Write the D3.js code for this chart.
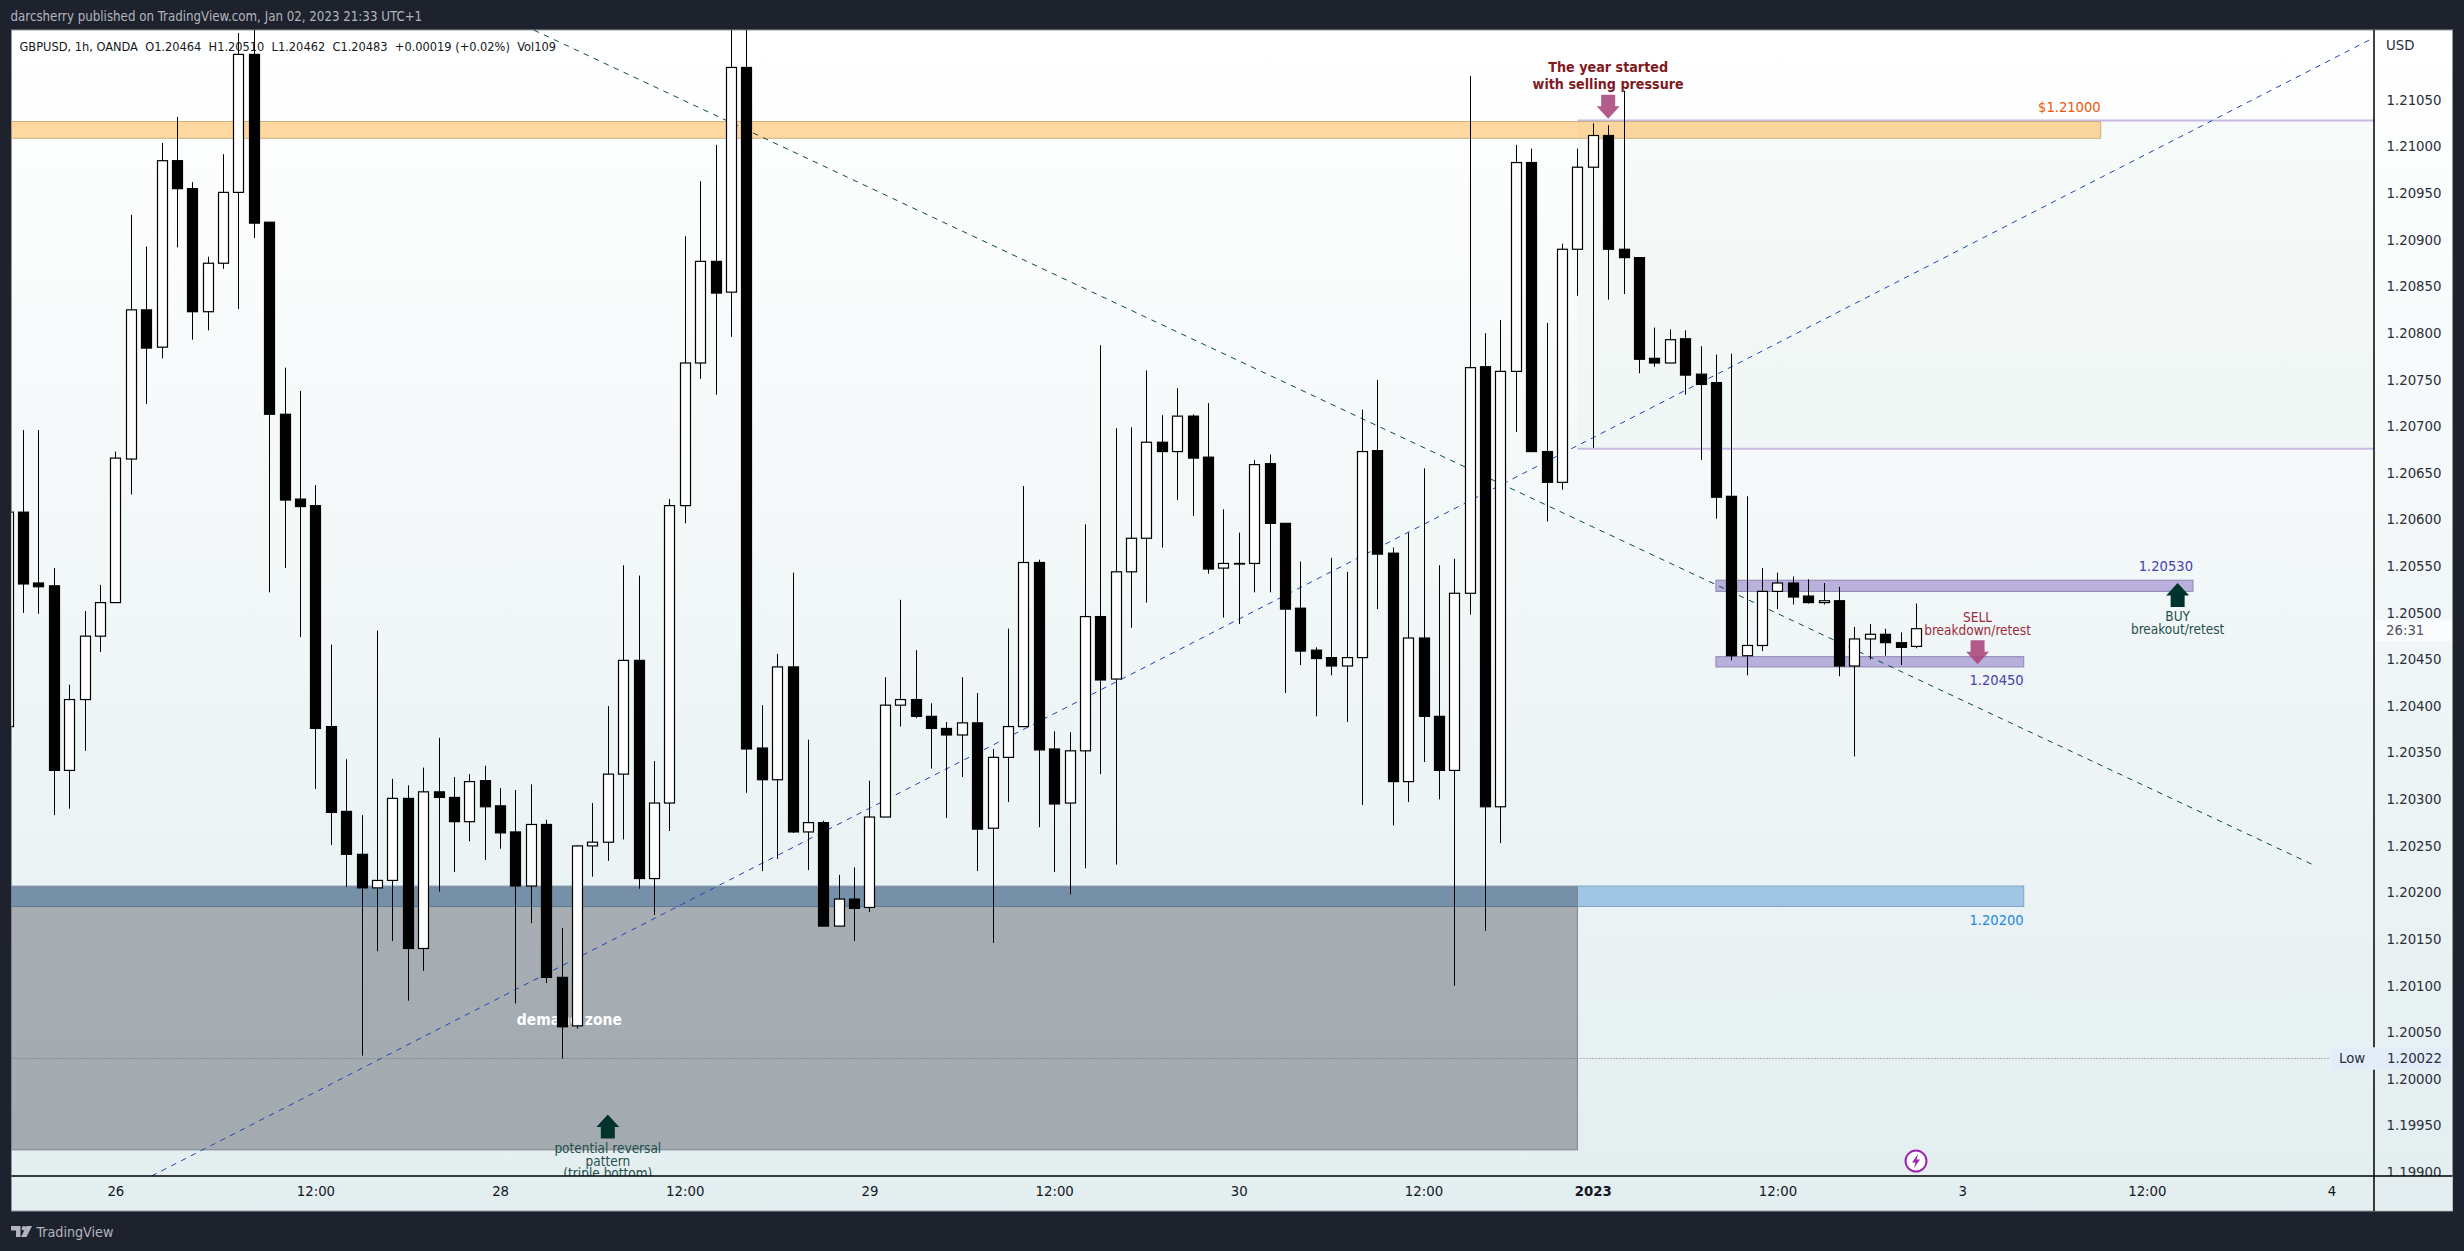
<!DOCTYPE html>
<html><head><meta charset="utf-8">
<script src="https://cdnjs.cloudflare.com/ajax/libs/d3/7.8.5/d3.min.js"></script>
<style>html,body{margin:0;padding:0;background:#1e222d;overflow:hidden}svg{display:block}text{font-family:"DejaVu Sans",sans-serif}.cond{font-family:"DejaVu Sans Condensed","DejaVu Sans",sans-serif}</style>
</head><body><svg id="c" width="2464" height="1251"></svg>
<script>
const opens=[1.20378,1.20608,1.20532,1.20529,1.20331,1.20407,1.20475,1.20511,1.20665,1.20825,
1.20785,1.20985,1.20955,1.20823,1.20875,1.20951,1.21099,1.20919,1.20713,1.20622,
1.20615,1.20378,1.20287,1.20241,1.20205,1.20213,1.20301,1.20140,1.20308,1.20302,
1.20276,1.20320,1.20293,1.20265,1.20207,1.20273,1.20109,1.20057,1.20250,1.20254,
1.20327,1.20449,1.20215,1.20296,1.20615,1.20768,1.20877,1.20844,1.21085,1.20355,
1.20321,1.20442,1.20265,1.20275,1.20164,1.20193,1.20184,1.20281,1.20401,1.20407,
1.20389,1.20376,1.20369,1.20382,1.20269,1.20345,1.20378,1.20554,1.20354,1.20296,
1.20352,1.20496,1.20429,1.20544,1.20580,1.20683,1.20673,1.20711,1.20667,1.20548,
1.20553,1.20553,1.20660,1.20596,1.20505,1.20460,1.20452,1.20443,1.20452,1.20674,
1.20564,1.20319,1.20473,1.20389,1.20331,1.20521,1.20764,1.20292,1.20759,1.20983,
1.20673,1.20640,1.20890,1.20978,1.21012,1.20890,1.20881,1.20773,1.20768,1.20794,
1.20756,1.20747,1.20625,1.20454,1.20465,1.20523,1.20532,1.20518,1.20511,1.20513,
1.20443,1.20472,1.20477,1.20468,1.20464];
const closes=[1.20608,1.20531,1.20528,1.20331,1.20407,1.20475,1.20511,1.20666,1.20825,1.20784,
1.20985,1.20955,1.20823,1.20875,1.20951,1.21099,1.20918,1.20713,1.20621,1.20614,
1.20376,1.20286,1.20241,1.20205,1.20213,1.20301,1.20140,1.20308,1.20302,1.20276,
1.20319,1.20292,1.20264,1.20207,1.20273,1.20109,1.20056,1.20250,1.20254,1.20327,
1.20449,1.20215,1.20296,1.20615,1.20768,1.20877,1.20843,1.21085,1.20354,1.20321,
1.20442,1.20265,1.20275,1.20164,1.20193,1.20183,1.20281,1.20401,1.20407,1.20389,
1.20376,1.20369,1.20382,1.20268,1.20345,1.20378,1.20554,1.20353,1.20295,1.20352,
1.20496,1.20428,1.20544,1.20580,1.20683,1.20673,1.20711,1.20666,1.20547,1.20553,
1.20553,1.20659,1.20596,1.20504,1.20459,1.20451,1.20443,1.20452,1.20673,1.20563,
1.20319,1.20473,1.20389,1.20331,1.20521,1.20763,1.20292,1.20759,1.20983,1.20673,
1.20640,1.20890,1.20978,1.21012,1.20890,1.20881,1.20772,1.20768,1.20793,1.20755,
1.20745,1.20624,1.20454,1.20465,1.20523,1.20532,1.20517,1.20511,1.20513,1.20443,
1.20472,1.20477,1.20468,1.20463,1.20483];
const highs=[1.20620,1.20696,1.20696,1.20548,1.20423,1.20502,1.20530,1.20673,1.20927,1.20893,
1.21004,1.21032,1.20962,1.20882,1.20992,1.21122,1.21170,1.20919,1.20763,1.20738,
1.20637,1.20466,1.20343,1.20283,1.20481,1.20322,1.20315,1.20334,1.20366,1.20324,
1.20327,1.20336,1.20312,1.20310,1.20316,1.20278,1.20162,1.20251,1.20296,1.20400,
1.20551,1.20540,1.20341,1.20622,1.20904,1.20963,1.21002,1.21170,1.21170,1.20401,
1.20456,1.20543,1.20364,1.20277,1.20219,1.20227,1.20320,1.20431,1.20514,1.20460,
1.20403,1.20383,1.20431,1.20414,1.20354,1.20483,1.20636,1.20557,1.20373,1.20372,
1.20595,1.20787,1.20698,1.20699,1.20760,1.20712,1.20741,1.20713,1.20725,1.20611,
1.20586,1.20664,1.20670,1.20596,1.20555,1.20463,1.20559,1.20544,1.20718,1.20750,
1.20570,1.20586,1.20655,1.20551,1.20558,1.21076,1.20800,1.20814,1.21002,1.20998,
1.20811,1.20896,1.20998,1.21025,1.21023,1.21060,1.20881,1.20806,1.20804,1.20803,
1.20786,1.20777,1.20778,1.20625,1.20548,1.20543,1.20539,1.20536,1.20532,1.20528,
1.20485,1.20488,1.20483,1.20479,1.20510];
const lows=[1.20370,1.20500,1.20499,1.20283,1.20290,1.20352,1.20458,1.20511,1.20627,1.20724,
1.20773,1.20892,1.20793,1.20803,1.20869,1.20826,1.20902,1.20522,1.20548,1.20474,
1.20311,1.20251,1.20206,1.20025,1.20137,1.20148,1.20084,1.20116,1.20201,1.20222,
1.20255,1.20235,1.20247,1.20081,1.20167,1.20103,1.20022,1.20054,1.20217,1.20234,
1.20257,1.20204,1.20176,1.20266,1.20596,1.20751,1.20734,1.20796,1.20307,1.20223,
1.20236,1.20264,1.20224,1.20164,1.20164,1.20148,1.20179,1.20281,1.20378,1.20387,
1.20333,1.20280,1.20324,1.20223,1.20146,1.20297,1.20378,1.20270,1.20222,1.20198,
1.20226,1.20327,1.20230,1.20484,1.20511,1.20570,1.20621,1.20604,1.20542,1.20495,
1.20488,1.20522,1.20522,1.20414,1.20444,1.20389,1.20433,1.20383,1.20294,1.20504,
1.20272,1.20297,1.20340,1.20300,1.20100,1.20498,1.20159,1.20253,1.20694,1.20673,
1.20598,1.20632,1.20840,1.20677,1.20836,1.20842,1.20757,1.20764,1.20768,1.20734,
1.20664,1.20601,1.20449,1.20433,1.20459,1.20504,1.20509,1.20510,1.20509,1.20432,
1.20346,1.20450,1.20454,1.20444,1.20462];

const timeTickBars=[7,20,32,44,56,68,80,92,103,115,127,139,151];
const timeTickLabels=["26","12:00","28","12:00","29","12:00","30","12:00","2023","12:00","3","12:00","4"];
const priceTicks=[1.21050,1.21000,1.20950,1.20900,1.20850,1.20800,1.20750,1.20700,1.20650,1.20600,1.20550,1.20500,1.20450,1.20400,1.20350,1.20300,1.20250,1.20200,1.20150,1.20100,1.20050,1.20000,1.19950,1.19900];
const zoneBars=[[-1,136],[-1,131],[111,142],[111,131],[-1,102]];
const zonePrices=[[1.21027,1.21009],[1.20207,1.20185],[1.20535,1.20523],[1.20453,1.20442],[1.20206,1.19924]];
const zoneKinds=["orange","blue","purple","purple","gray"];
const levelBars=102, levelPrices=[1.21028,1.20676], lowPrice=1.20022;
const trendBars=[[9.36,153.76],[34.2,149.9]];
const trendPrices=[[1.19896,1.21117],[1.21125,1.20229]];
const noteTexts=["The year started","with selling pressure","SELL","breakdown/retest","BUY","breakout/retest","potential reversal","pattern","(triple bottom)","demand zone","$1.21000","1.20530","1.20450","1.20200"];
const noteBars=[104,104,128,128,141,141,39,39,39,36.5,136,142,131,131];
const notePrices=[1.21085,1.21067,1.20495,1.20481,1.20496,1.20482,1.19926,1.19912,1.19899,1.20064,1.21043,1.20550,1.20428,1.20171];
const noteKinds=["red","red","sell","sell","buy","buy","buy","buy","buy","zone","orange","purple","purple","blue"];
const arrowBars=[104,128,141,39], arrowPrices=[1.21030,1.20445,1.20532,1.19962], arrowDirs=["down","down","up","up"];
const legendText="GBPUSD, 1h, OANDA  O1.20464  H1.20510  L1.20462  C1.20483  +0.00019 (+0.02%)  Vol109";
const headerText="darcsherry published on TradingView.com, Jan 02, 2023 21:33 UTC+1";

const L=11.5,T=30,PR=2374,PB=1176,R=2452.5,B=1211;
const candles=opens.map((o,i)=>({i,o,c:closes[i],h:highs[i],l:lows[i]}));
const x=d3.scaleLinear().domain([0,124]).range([7.6,1916]);
const y=d3.scaleLinear().domain([1.21,1.20]).range([146.7,1079]);
const svg=d3.select("#c");
const defs=svg.append("defs");
const g=defs.append("linearGradient").attr("id","bg").attr("x1",0).attr("x2",0).attr("y1",0).attr("y2",1);
g.append("stop").attr("offset",0).attr("stop-color","#ffffff");
g.append("stop").attr("offset",1).attr("stop-color","#e3eef0");
defs.append("clipPath").attr("id","plot").append("rect").attr("x",L).attr("y",T).attr("width",PR-L).attr("height",PB-T);

svg.append("rect").attr("width",2464).attr("height",1251).attr("fill","#1e222d");
svg.append("rect").attr("x",L).attr("y",T).attr("width",R-L).attr("height",B-T).attr("fill","url(#bg)").attr("stroke","#9598a1").attr("stroke-width",1);

const plot=svg.append("g").attr("clip-path","url(#plot)");
plot.append("rect").attr("x",x(levelBars)).attr("y",y(levelPrices[0])).attr("width",PR-x(levelBars)).attr("height",y(levelPrices[1])-y(levelPrices[0])).attr("fill","rgba(76,175,80,0.03)");
levelPrices.forEach(p=>plot.append("line").attr("x1",x(levelBars)).attr("x2",PR).attr("y1",y(p)).attr("y2",y(p)).attr("stroke","#c8b9e4").attr("stroke-width",2));

const zoneStyle={orange:["rgba(255,152,0,0.37)","#cbb07e"],blue:["rgba(30,120,200,0.36)","#7ca6c6"],purple:["rgba(81,45,168,0.35)","#8f85b5"],gray:["rgba(30,34,45,0.33)","#7f858c"]};
plot.selectAll("rect.zone").data(zoneKinds).join("rect").attr("class","zone")
 .attr("x",(d,i)=>x(zoneBars[i][0])).attr("width",(d,i)=>x(zoneBars[i][1])-x(zoneBars[i][0]))
 .attr("y",(d,i)=>y(zonePrices[i][0])).attr("height",(d,i)=>y(zonePrices[i][1])-y(zonePrices[i][0]))
 .attr("fill",d=>zoneStyle[d][0]).attr("stroke",d=>zoneStyle[d][1]).attr("stroke-width",1);

plot.append("line").attr("x1",L).attr("x2",2330).attr("y1",y(lowPrice)).attr("y2",y(lowPrice)).attr("stroke","#6f747a").attr("stroke-width",1).attr("stroke-dasharray","1 2");

const trendColor=["#1f45b5","#0c4a42"];
trendBars.forEach((b,i)=>plot.append("line").attr("x1",x(b[0])).attr("x2",x(b[1])).attr("y1",y(trendPrices[i][0])).attr("y2",y(trendPrices[i][1])).attr("stroke",trendColor[i]).attr("stroke-width",1).attr("stroke-dasharray","5.5 5.5"));

const noteStyle={red:["#801922",14.2,"700"],sell:["#9b2a3a",13.5,"400"],buy:["#1f4f4b",13.5,"400"],zone:["#ffffff",15.5,"700"],orange:["#f0590a",14.6,"400"],purple:["#4a3fb0",14.6,"400"],blue:["#1e88e5",14.6,"400"]};
const rightAnchored=new Set(["orange","purple","blue"]);
plot.selectAll("text.note").data(noteTexts).join("text").attr("class","note cond")
 .attr("x",(d,i)=>x(noteBars[i])).attr("y",(d,i)=>y(notePrices[i])).attr("dy","0.35em")
 .attr("text-anchor",(d,i)=>rightAnchored.has(noteKinds[i])?"end":"middle")
 .attr("fill",(d,i)=>noteStyle[noteKinds[i]][0]).attr("font-size",(d,i)=>noteStyle[noteKinds[i]][1]).attr("font-weight",(d,i)=>noteStyle[noteKinds[i]][2]).text(d=>d);

plot.selectAll("path.arrow").data(arrowDirs).join("path").attr("class","arrow")
 .attr("transform",(d,i)=>`translate(${x(arrowBars[i])},${y(arrowPrices[i])}) scale(1,${d==="down"?-1:1})`)
 .attr("d","M0 0L11.5 12.5L7 12.5L7 24L-7 24L-7 12.5L-11.5 12.5Z")
 .attr("fill",d=>d==="down"?"#a8447a":"#00332e").attr("fill-opacity",d=>d==="down"?0.88:1);

const cg=plot.append("g");
cg.selectAll("line.wick").data(candles).join("line").attr("class","wick")
 .attr("x1",d=>Math.round(x(d.i))+0.5).attr("x2",d=>Math.round(x(d.i))+0.5).attr("y1",d=>y(d.h)).attr("y2",d=>y(d.l)).attr("stroke","#000").attr("stroke-width",1);
cg.selectAll("rect.body").data(candles).join("rect").attr("class","body")
 .attr("x",d=>Math.round(x(d.i))+0.5-5).attr("width",10)
 .attr("y",d=>y(Math.max(d.o,d.c))).attr("height",d=>Math.max(0.6,Math.abs(y(d.o)-y(d.c))))
 .attr("fill",d=>d.c>=d.o?"#fff":"#000").attr("stroke","#000").attr("stroke-width",1.2);

const bolt=svg.append("g").attr("transform",`translate(${x(124)},${y(1.19912)})`);
bolt.append("circle").attr("r",10.5).attr("fill","#fff").attr("stroke","#9c27b0").attr("stroke-width",2);
bolt.append("path").attr("d","M2-7L-4 1.5L-0.5 1.5L-2 7L4-1.5L0.5-1.5Z").attr("fill","#9c27b0");

const axY=svg.append("g").attr("transform",`translate(${PR},0)`).call(d3.axisRight(y).tickValues(priceTicks).tickSize(0).tickPadding(12.5).tickFormat(d3.format(".5f")));
axY.select(".domain").remove();
axY.selectAll("text").attr("font-size",13.3).attr("fill","#2a2e39").attr("style",'font-family:"DejaVu Sans",sans-serif');
svg.append("rect").attr("x",PR).attr("y",PB).attr("width",R-PR).attr("height",B-PB-0.5).attr("fill","#e4eef0");
const axX=svg.append("g").attr("transform",`translate(0,${PB})`).call(d3.axisBottom(x).tickValues(timeTickBars).tickSize(0).tickPadding(11).tickFormat((d,i)=>timeTickLabels[i]));
axX.select(".domain").remove();
axX.selectAll("text").attr("font-size",13.3).attr("fill","#131722").attr("style",'font-family:"DejaVu Sans",sans-serif').attr("font-weight",(d,i)=>timeTickLabels[i]==="2023"?700:400);

svg.append("line").attr("x1",PR).attr("x2",PR).attr("y1",T).attr("y2",B).attr("stroke","#000").attr("stroke-width",1.5);
svg.append("line").attr("x1",L).attr("x2",R).attr("y1",PB).attr("y2",PB).attr("stroke","#000").attr("stroke-width",1.5);

svg.append("text").attr("x",2386).attr("y",45).attr("dy","0.35em").attr("font-size",13.3).attr("fill","#2a2e39").text("USD");
svg.append("rect").attr("x",PR+1).attr("y",620).attr("width",R-PR-1.5).attr("height",21).attr("fill","#fbfcfd");
svg.append("text").attr("x",2386).attr("y",630.5).attr("dy","0.35em").attr("font-size",13.3).attr("fill","#50535e").text("26:31");
svg.append("rect").attr("x",2331.5).attr("y",y(lowPrice)-11.3).attr("width",118.5).attr("height",22.6).attr("rx",3).attr("fill","#e3edf9");
svg.append("text").attr("x",2339).attr("y",y(lowPrice)).attr("dy","0.35em").attr("font-size",13.3).attr("fill","#2a2e39").text("Low");
svg.append("text").attr("x",2387).attr("y",y(lowPrice)).attr("dy","0.35em").attr("font-size",13.3).attr("fill","#2a2e39").text(d3.format(".5f")(lowPrice));

svg.append("text").attr("class","cond").attr("x",19.5).attr("y",46.5).attr("dy","0.35em").attr("font-size",12.7).attr("fill","#131722").style("white-space","pre").text(legendText);
svg.append("text").attr("class","cond").attr("x",10.5).attr("y",16.5).attr("dy","0.35em").attr("font-size",13.2).attr("fill","#b2b5be").text(headerText);
const logo=svg.append("g").attr("fill","#b2b5be").attr("transform","translate(11,1226)");
logo.append("path").attr("d","M0 0H9.5V11H5V4.5H0Z");
logo.append("circle").attr("cx",13).attr("cy",2.3).attr("r",2.3);
logo.append("path").attr("d","M15.5 0H21L15.5 11H10Z");
svg.append("text").attr("class","cond").attr("x",36.5).attr("y",1232).attr("dy","0.35em").attr("font-size",14.2).attr("fill","#b2b5be").text("TradingView");
</script></body></html>
